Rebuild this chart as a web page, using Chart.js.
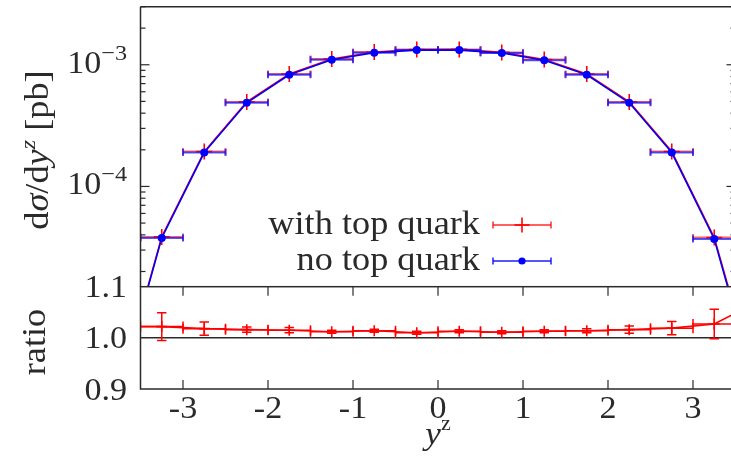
<!DOCTYPE html>
<html>
<head>
<meta charset="utf-8">
<script src="https://cdn.jsdelivr.net/npm/chart.js@4.4.1/dist/chart.umd.min.js"></script>
<style>
  html, body { margin: 0; padding: 0; background: #fff; overflow: hidden; }
  #wrap { position: relative; width: 740px; height: 459px; }
  #wrap canvas { position: absolute; left: 0; top: 0; }
</style>
</head>
<body>
<div id="wrap">
  <canvas id="mainPanel" width="740" height="459"></canvas>
  <canvas id="ratioPanel" width="740" height="459"></canvas>
</div>
<script>
// ---- data: Z-boson rapidity distribution, 0.5-wide bins ----
const binCenters = [-3.25, -2.75, -2.25, -1.75, -1.25, -0.75, -0.25, 0.25, 0.75, 1.25, 1.75, 2.25, 2.75, 3.25];
const binHalfWidth = 0.25;
const noTopQuark   = [3.77e-5, 1.90e-4, 4.87e-4, 8.28e-4, 1.10e-3, 1.255e-3, 1.32e-3, 1.32e-3, 1.25e-3, 1.09e-3, 8.28e-4, 4.87e-4, 1.90e-4, 3.70e-5];
const withTopQuark = [3.85e-5, 1.934e-4, 4.95e-4, 8.40e-4, 1.113e-3, 1.273e-3, 1.333e-3, 1.337e-3, 1.264e-3, 1.104e-3, 8.40e-4, 4.95e-4, 1.936e-4, 3.80e-5];
// outer (partially filled) bins, drawn as line only
const edgeX = [-3.75, 3.75];
const noTopEdge = [2.1e-6, 2.1e-6];
const withTopEdge = [2.15e-6, 2.25e-6];
// ratio with/without top quark
const ratioValues = [1.022, 1.018, 1.016, 1.015, 1.012, 1.014, 1.010, 1.013, 1.011, 1.013, 1.014, 1.016, 1.019, 1.027];
const ratioErrors = [0.027, 0.013, 0.005, 0.005, 0.003, 0.003, 0.003, 0.003, 0.003, 0.003, 0.004, 0.007, 0.013, 0.029];
const ratioEdge = [1.022, 1.07];
// axes
const xTicks = [-3, -2, -1, 0, 1, 2, 3];
const xTickLabels = ['-3', '-2', '-1', '0', '1', '2', '3'];
const logMajor = [1e-3, 1e-4];
const logMajorExp = ['\u22123', '\u22124'];
const ratioTicks = [1.1, 1.0, 0.9];
const ratioTickLabels = ['1.1', '1.0', '0.9'];
const legendLabels = ['with top quark', 'no top quark'];

const RED = '#ff0000', BLUE = '#0000ff';
const RED_BAR = 'rgba(255,0,0,0.62)', BLUE_BAR = 'rgba(20,20,255,0.72)';
const INK = '#2a2a2a';
const SERIF = '"Liberation Serif", "DejaVu Serif", serif';
const STRETCH = 1.1;
const FS = 31;

function fontOf(p) { return (p.italic ? 'italic ' : '') + (p.size || FS) + 'px ' + SERIF; }
function partsWidth(ctx, parts) {
  let w = 0;
  for (const p of parts) { ctx.font = fontOf(p); w += ctx.measureText(p.t).width * STRETCH; }
  return w;
}
function drawParts(ctx, parts, x, y, align) {
  const w = partsWidth(ctx, parts);
  let cx = align === 'right' ? x - w : align === 'center' ? x - w / 2 : x;
  ctx.fillStyle = INK;
  for (const p of parts) {
    ctx.save();
    ctx.font = fontOf(p);
    ctx.textBaseline = 'alphabetic';
    ctx.textAlign = 'left';
    ctx.translate(cx, y + (p.dy || 0));
    ctx.scale(STRETCH, 1);
    ctx.fillText(p.t, 0, 0);
    const pw = ctx.measureText(p.t).width * STRETCH;
    ctx.restore();
    cx += pw;
  }
}
function line(ctx, x1, y1, x2, y2) { ctx.beginPath(); ctx.moveTo(x1, y1); ctx.lineTo(x2, y2); ctx.stroke(); }

function pts(xs, ys, ex, ey) {
  const out = [{ x: ex[0], y: ey[0] }];
  xs.forEach((x, i) => out.push({ x, y: ys[i] }));
  out.push({ x: ex[1], y: ey[1] });
  return out;
}
const isEdge = c => c.dataIndex === 0 || c.dataIndex === binCenters.length + 1;

// horizontal bin-width bars with end caps, optional vertical error bars
function drawBars(chart, color, values, yErr, capH, capW, lw) {
  const { ctx, chartArea: a, scales: { x, y } } = chart;
  ctx.save();
  ctx.beginPath(); ctx.rect(a.left, a.top, a.right - a.left, a.bottom - a.top); ctx.clip();
  ctx.strokeStyle = color; ctx.lineWidth = lw;
  binCenters.forEach((c, i) => {
    const py = y.getPixelForValue(values[i]);
    const x0 = x.getPixelForValue(c - binHalfWidth), x1 = x.getPixelForValue(c + binHalfWidth);
    line(ctx, x0, py, x1, py);
    line(ctx, x0, py - capH, x0, py + capH);
    line(ctx, x1, py - capH, x1, py + capH);
    if (yErr) {
      const px = x.getPixelForValue(c);
      const yt = y.getPixelForValue(values[i] + yErr[i]), yb = y.getPixelForValue(values[i] - yErr[i]);
      line(ctx, px, yt, px, yb);
      line(ctx, px - capW, yt, px + capW, yt);
      line(ctx, px - capW, yb, px + capW, yb);
    }
  });
  ctx.restore();
}

const base = {
  responsive: false, animation: false, devicePixelRatio: 1,
  plugins: { legend: { display: false }, tooltip: { enabled: false } },
  elements: { line: { tension: 0 } }
};

// ---- upper panel: cross section, log scale ----
const mainDecor = {
  id: 'mainDecor',
  beforeDatasetDraw(chart, args) {
    const label = chart.data.datasets[args.index].label;
    if (label === legendLabels[0]) drawBars(chart, RED_BAR, withTopQuark, null, 3.5, 0, 2);
    else drawBars(chart, BLUE_BAR, noTopQuark, null, 3.5, 0, 2);
  },
  afterDraw(chart) {
    const { ctx, chartArea: a, scales: { y } } = chart;
    ctx.save();
    ctx.strokeStyle = INK; ctx.lineWidth = 1.5;
    line(ctx, a.left, a.top, a.right, a.top);
    line(ctx, a.left, a.top, a.left, a.bottom);
    line(ctx, a.right, a.top, a.right, a.bottom);
    // log ticks, inward on both sides
    ctx.lineWidth = 1.2;
    for (const d of [1e-5, 1e-4, 1e-3]) {
      for (let m = 1; m <= 9; m++) {
        const v = d * m;
        if (v < y.min || v > y.max) continue;
        const py = y.getPixelForValue(v);
        const len = m === 1 ? 9 : 5;
        line(ctx, a.left, py, a.left + len, py);
        line(ctx, a.right, py, a.right - len, py);
      }
    }
    logMajor.forEach((v, i) => {
      const py = y.getPixelForValue(v);
      drawParts(ctx, [{ t: '10' }, { t: logMajorExp[i], size: 22, dy: -13 }], 127, py + 8, 'right');
    });
    // legend
    const lx0 = 493, lx1 = 551, lxc = 522;
    const rows = [225, 261];
    drawParts(ctx, [{ t: legendLabels[0], size: 33 }], 480, rows[0] + 9, 'right');
    drawParts(ctx, [{ t: legendLabels[1], size: 33 }], 480, rows[1] + 9, 'right');
    ctx.lineWidth = 2;
    ctx.strokeStyle = RED_BAR;
    line(ctx, lx0, rows[0], lx1, rows[0]);
    line(ctx, lx0, rows[0] - 3.5, lx0, rows[0] + 3.5);
    line(ctx, lx1, rows[0] - 3.5, lx1, rows[0] + 3.5);
    ctx.strokeStyle = RED; ctx.lineWidth = 1.6;
    line(ctx, lxc, rows[0] - 7.5, lxc, rows[0] + 7.5);
    line(ctx, lxc - 7.5, rows[0], lxc + 7.5, rows[0]);
    ctx.strokeStyle = BLUE_BAR; ctx.lineWidth = 2;
    line(ctx, lx0, rows[1], lx1, rows[1]);
    line(ctx, lx0, rows[1] - 3.5, lx0, rows[1] + 3.5);
    line(ctx, lx1, rows[1] - 3.5, lx1, rows[1] + 3.5);
    ctx.fillStyle = BLUE;
    ctx.beginPath(); ctx.arc(lxc, rows[1], 3.6, 0, Math.PI * 2); ctx.fill();
    // axis title
    ctx.save();
    ctx.translate(48, 150);
    ctx.rotate(-Math.PI / 2);
    drawParts(ctx, [
      { t: 'd', size: 33 }, { t: '\u03C3', italic: true, size: 33 }, { t: '/d', size: 33 }, { t: 'y', italic: true, size: 33 },
      { t: 'z', italic: true, size: 22, dy: -13 }, { t: ' [pb]', size: 33 }
    ], 0, 0, 'center');
    ctx.restore();
    ctx.restore();
  }
};

new Chart(document.getElementById('mainPanel'), {
  type: 'line',
  data: {
    // the first dataset in the list is painted last, so "no top quark" sits on top
    datasets: [
      {
        label: legendLabels[1],
        data: pts(binCenters, noTopQuark, edgeX, noTopEdge),
        borderColor: BLUE, borderWidth: 1.6,
        pointStyle: 'circle', pointRadius: c => isEdge(c) ? 0 : 4,
        pointBackgroundColor: BLUE, pointBorderColor: BLUE, pointBorderWidth: 0
      },
      {
        label: legendLabels[0],
        data: pts(binCenters, withTopQuark, edgeX, withTopEdge),
        borderColor: RED, borderWidth: 1.6,
        pointStyle: 'cross', pointRadius: c => isEdge(c) ? 0 : 8,
        pointBorderColor: RED, pointBorderWidth: 1.6
      }
    ]
  },
  options: Object.assign({}, base, {
    layout: { padding: { left: 140.5, right: 4.5, top: 6.7, bottom: 459 - 286.7 } },
    scales: {
      x: { type: 'linear', min: -3.5, max: 3.5, display: false },
      y: { type: 'logarithmic', min: 1.5e-5, max: 3e-3, display: false }
    }
  }),
  plugins: [mainDecor]
});

// ---- lower panel: ratio ----
const ratioDecor = {
  id: 'ratioDecor',
  beforeDatasetsDraw(chart) {
    const { ctx, chartArea: a, scales: { y } } = chart;
    ctx.save();
    ctx.strokeStyle = INK; ctx.lineWidth = 1.5;
    const p1 = y.getPixelForValue(1.0);
    line(ctx, a.left, p1, a.right, p1);
    ctx.restore();
  },
  beforeDatasetDraw(chart) {
    drawBars(chart, RED, ratioValues, ratioErrors, 5, 4.7, 1.5);
  },
  afterDraw(chart) {
    const { ctx, chartArea: a, scales: { x, y } } = chart;
    ctx.save();
    ctx.strokeStyle = INK; ctx.lineWidth = 1.5;
    ctx.strokeRect(a.left, a.top, a.right - a.left, a.bottom - a.top);
    ctx.lineWidth = 1.2;
    xTicks.forEach((v, i) => {
      const px = x.getPixelForValue(v);
      line(ctx, px, a.top, px, a.top + 9);
      line(ctx, px, a.bottom, px, a.bottom - 9);
      drawParts(ctx, [{ t: xTickLabels[i] }], px, 418, 'center');
    });
    ratioTicks.forEach((v, i) => {
      drawParts(ctx, [{ t: ratioTickLabels[i] }], 127, y.getPixelForValue(v) + 10.5, 'right');
    });
    drawParts(ctx, [{ t: 'y', italic: true, size: 32 }, { t: 'z', size: 20, dy: -14 }], 438, 444, 'center');
    ctx.save();
    ctx.translate(45, 342);
    ctx.rotate(-Math.PI / 2);
    drawParts(ctx, [{ t: 'ratio', size: 33 }], 0, 0, 'center');
    ctx.restore();
    ctx.restore();
  }
};

new Chart(document.getElementById('ratioPanel'), {
  type: 'line',
  data: {
    datasets: [{
      label: 'ratio',
      data: pts(binCenters, ratioValues, edgeX, ratioEdge),
      borderColor: RED, borderWidth: 1.6,
      pointStyle: 'cross', pointRadius: c => isEdge(c) ? 0 : 5.5,
      pointBorderColor: RED, pointBorderWidth: 1.6
    }]
  },
  options: Object.assign({}, base, {
    layout: { padding: { left: 140.5, right: 4.5, top: 286.7, bottom: 459 - 389 } },
    scales: {
      x: { type: 'linear', min: -3.5, max: 3.5, display: false },
      y: { type: 'linear', min: 0.9, max: 1.1, display: false }
    }
  }),
  plugins: [ratioDecor]
});
</script>
</body>
</html>
